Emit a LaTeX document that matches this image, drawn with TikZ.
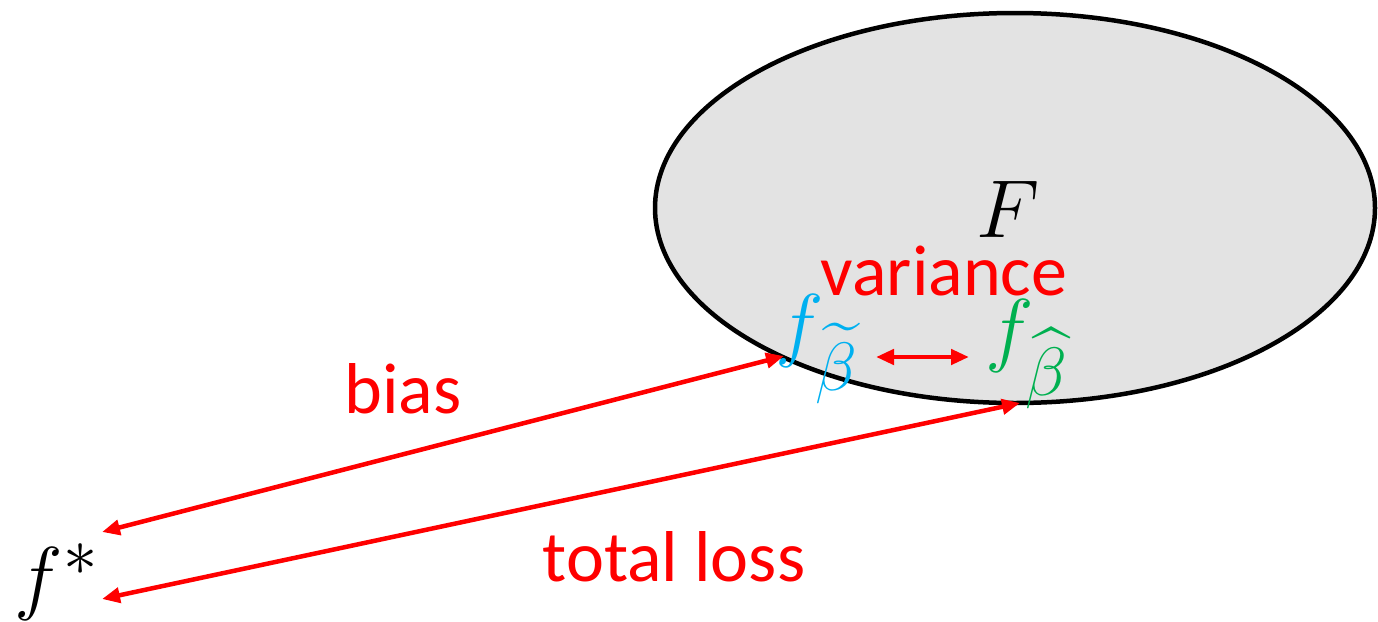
\documentclass[tikz,border=0pt]{standalone}
\usepackage{amsmath}
\usepackage{fontspec}
\setmainfont{Carlito}
\usetikzlibrary{arrows.meta}
\definecolor{myred}{RGB}{255,0,0}
\definecolor{mycyan}{RGB}{0,176,240}
\definecolor{mygreen}{RGB}{0,176,80}
\definecolor{myfill}{RGB}{227,227,227}
\tikzset{
  lbl/.style={text=myred, inner sep=0pt, anchor=base, font=\fontsize{72}{80}\selectfont},
  mth/.style={inner sep=0pt, font=\Huge, scale=3.3},
  conn/.style={draw=myred, line width=4.5pt, {Triangle[length=18pt,width=15pt]}-{Triangle[length=18pt,width=15pt]}}
}
\begin{document}
\begin{tikzpicture}[x=1pt,y=-1pt]
\useasboundingbox (0,0) rectangle (1378,621);
\draw[line width=4.5pt, fill=myfill] (1015,208) ellipse [x radius=360, y radius=195];
\node[mth] (F) at (1008,209) {$F$};
\node[lbl] (var) at (944,295) {variance};
\node[lbl] (bias) at (403,413) {bias};
\node[lbl] (tl) at (674,581) {total loss};
\node[mth, text=mycyan] (ft) at (817,349) {$f_{\widetilde{\beta}}$};
\node[mth, text=mygreen] (fh) at (1027,354) {$f_{\widehat{\beta}}$};
\node[mth] (fs) at (57,582) {$f^*$};
\coordinate (ftw) at (784,356);
\coordinate (fte) at (876,357);
\coordinate (fhw) at (969,357);
\coordinate (fhs) at (1020,403);
\coordinate (fsa) at (102,532);
\coordinate (fsb) at (102,599);
\draw[conn] (ftw) -- (fsa);
\draw[conn] (fhs) -- (fsb);
\draw[conn] (fte) -- (fhw);
\end{tikzpicture}
\end{document}
